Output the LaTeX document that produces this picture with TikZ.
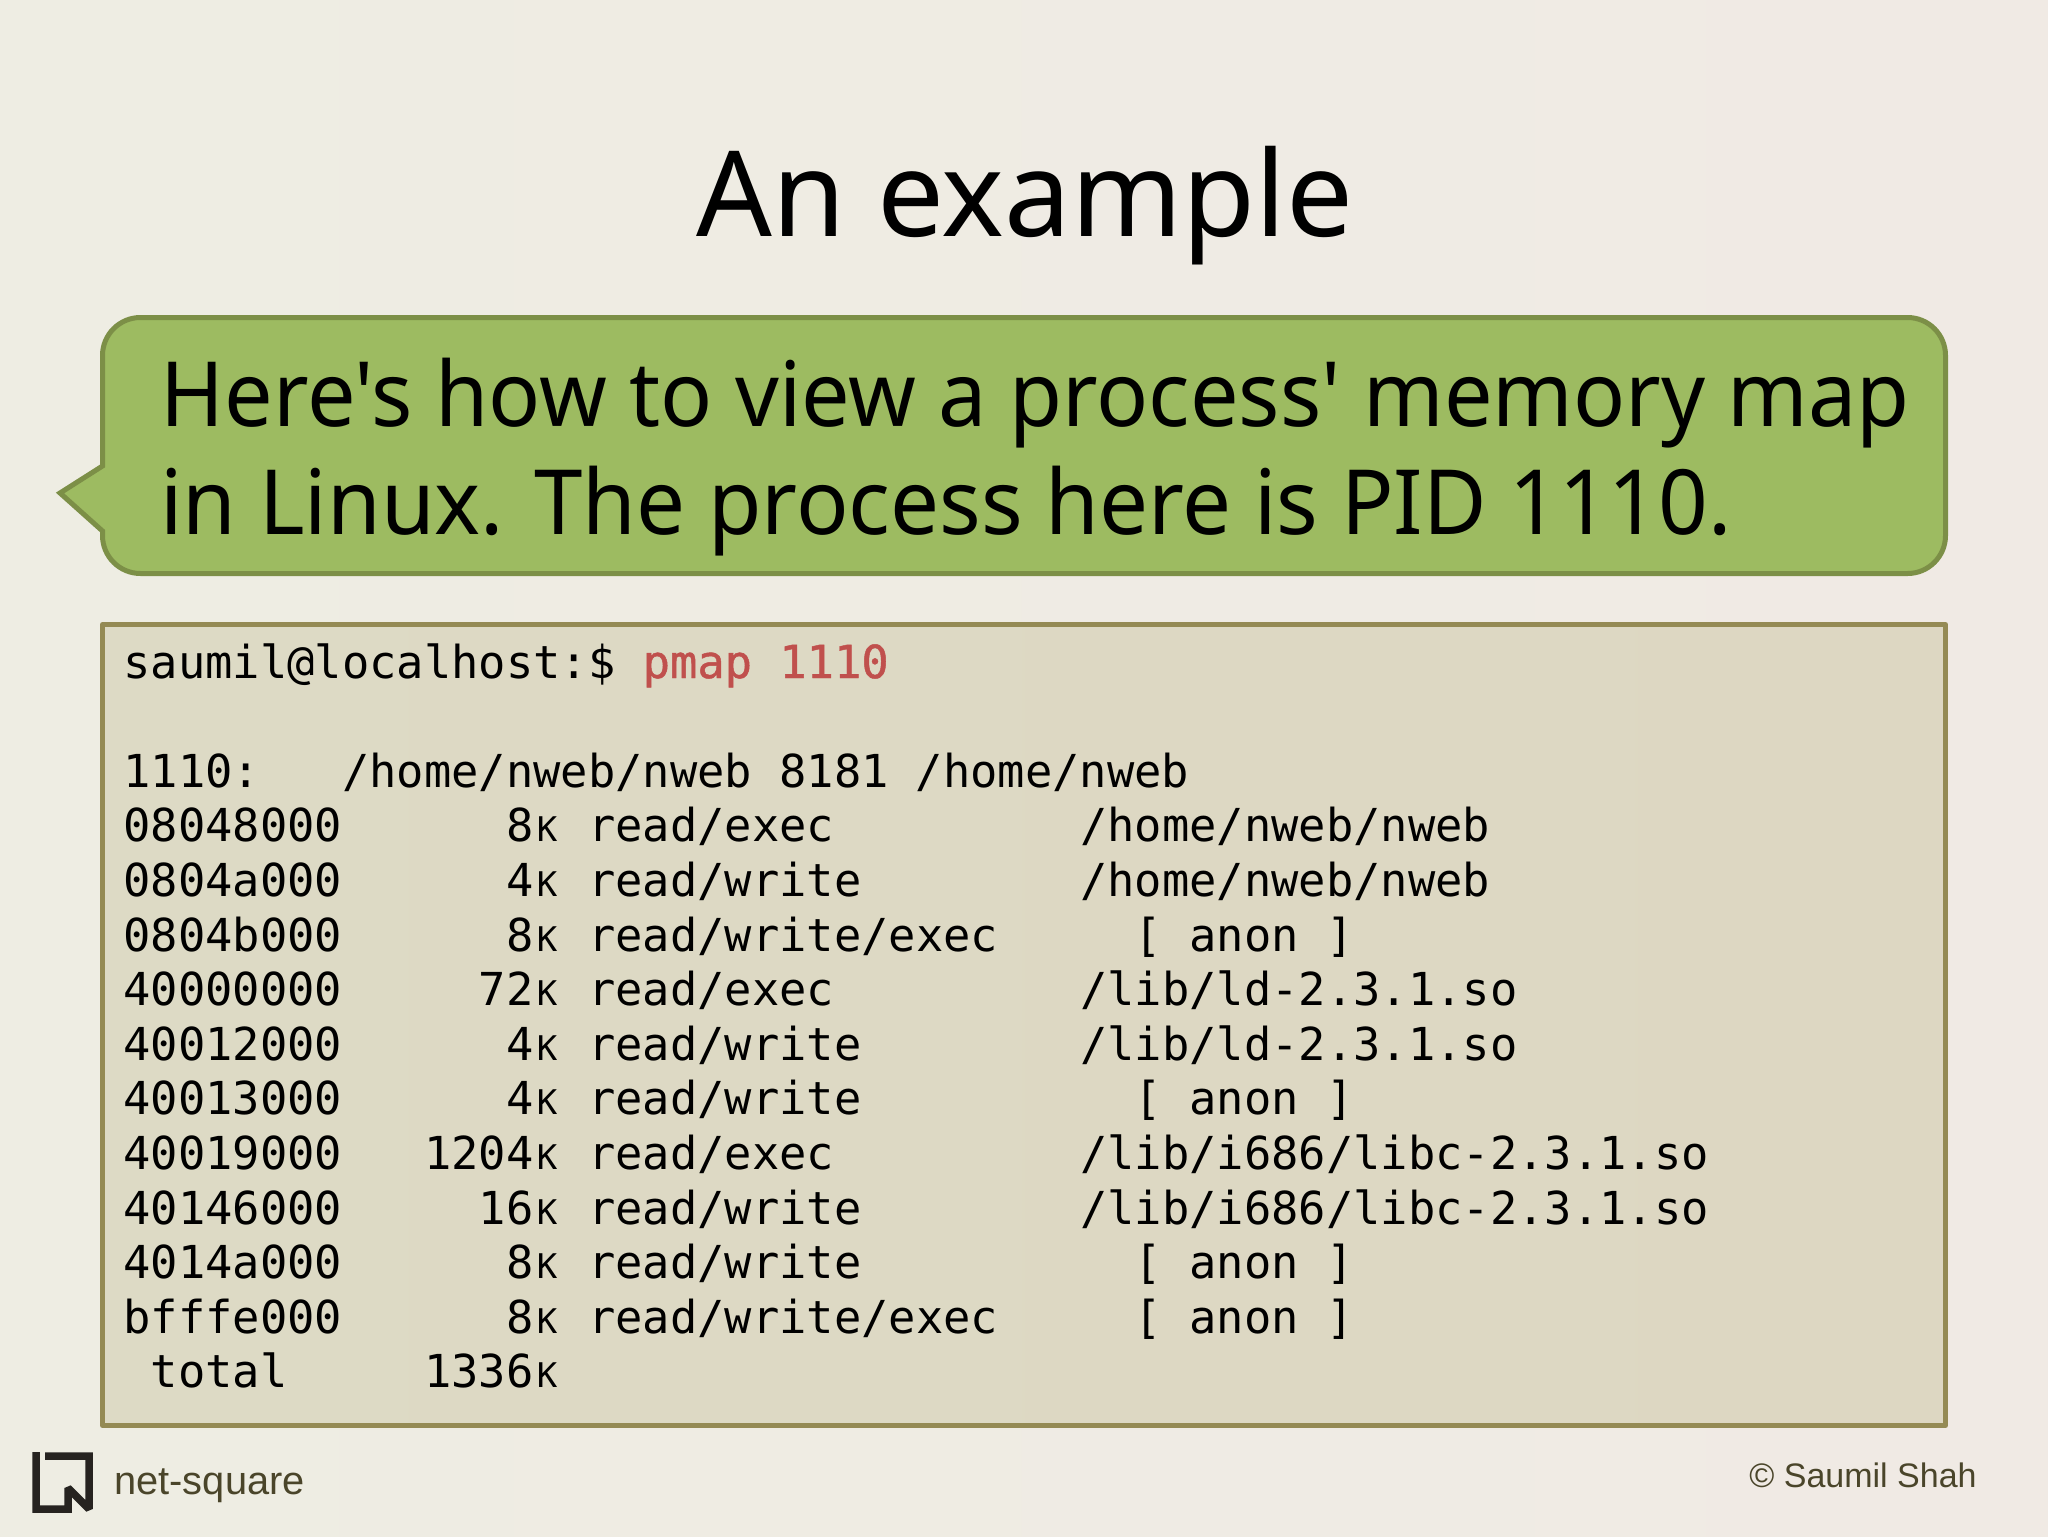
\documentclass[tikz,border=0pt]{standalone}
\usepackage{fontspec}
\newfontfamily\slidefont{Noto Sans}
\newfontfamily\termfont{DejaVu Sans Mono}
\newfontfamily\termboldfont[FakeBold=1]{DejaVu Sans Mono}
\newfontfamily\footfont{Liberation Sans}
\definecolor{bgl}{HTML}{EEEDE3}
\definecolor{bgm}{HTML}{EEECE2}
\definecolor{bgr}{HTML}{F0EAE4}
\definecolor{bubblefill}{HTML}{9DBB61}
\definecolor{bubbleline}{HTML}{7C8F47}
\definecolor{terml}{HTML}{DDDAC5}
\definecolor{termr}{HTML}{DDD7C2}
\definecolor{termline}{HTML}{948A54}
\definecolor{cmdred}{HTML}{C0504D}
\definecolor{footc}{HTML}{4A452A}
\definecolor{logoc}{HTML}{262320}
\newcommand{\smK}{\makebox[13.67pt][c]{\fontsize{17}{20}\selectfont K}}
\tikzset{
 x=.5pt,y=-.5pt,
 titletext/.style={inner sep=0,anchor=base,font=\slidefont\fontsize{59.4}{59}\selectfont,text=black},
 bubbletext/.style={inner sep=0,anchor=base west,font=\slidefont\fontsize{45}{46}\selectfont\addfontfeatures{FakeStretch=#1},text=black},
 termtext/.style={inner sep=0,anchor=base west,font=\termfont\fontsize{22.7}{27.3}\selectfont,text=black},
 foottext/.style={inner sep=0,font=\footfont\fontsize{19.9}{20}\selectfont,text=footc},
 copytext/.style={inner sep=0,font=\footfont\fontsize{17}{20}\selectfont,text=footc},
}
\begin{document}
\begin{tikzpicture}
\useasboundingbox (0,0) rectangle (2048,1536);
\fill[left color=bgl,middle color=bgm,right color=bgr] (0,0) rectangle (2048,1536);
\node[titletext] (title) at (1025,236) {An example};
\draw[fill=bubblefill,draw=bubbleline,line width=2.5pt,line join=miter]
 (102.5,355.5) arc[start angle=180,end angle=90,radius=19pt]
 -- (1907.5,317.5) arc[start angle=90,end angle=0,radius=19pt]
 -- (1945.5,535.5) arc[start angle=0,end angle=-90,radius=19pt]
 -- (140.5,573.5) arc[start angle=-90,end angle=-180,radius=19pt]
 -- (102.5,531) -- (60,493) -- (102.5,466) -- cycle;
\node[bubbletext=0.959] (line1) at (160,426) {Here's how to view a process' memory map};
\node[bubbletext=0.967] (line2) at (160,534) {in Linux. The process here is PID 1110.};
\draw[left color=terml,right color=termr,draw=termline,line width=2.5pt,line join=round] (102.5,624.5) rectangle (1945.5,1425.5);
\node[termtext] (t0) at (123,678) {saumil@localhost:\$ {\termboldfont\textcolor{cmdred}{pmap 1110}}};
\foreach \i/\t in {
 2/{1110:~~~/home/nweb/nweb 8181 /home/nweb},
 3/{08048000~~~~~~8\smK{} read/exec~~~~~~~~~/home/nweb/nweb},
 4/{0804a000~~~~~~4\smK{} read/write~~~~~~~~/home/nweb/nweb},
 5/{0804b000~~~~~~8\smK{} read/write/exec~~~~~[ anon ]},
 6/{40000000~~~~~72\smK{} read/exec~~~~~~~~~/lib/ld-2.3.1.so},
 7/{40012000~~~~~~4\smK{} read/write~~~~~~~~/lib/ld-2.3.1.so},
 8/{40013000~~~~~~4\smK{} read/write~~~~~~~~~~[ anon ]},
 9/{40019000~~~1204\smK{} read/exec~~~~~~~~~/lib/i686/libc-2.3.1.so},
 10/{40146000~~~~~16\smK{} read/write~~~~~~~~/lib/i686/libc-2.3.1.so},
 11/{4014a000~~~~~~8\smK{} read/write~~~~~~~~~~[ anon ]},
 12/{bfffe000~~~~~~8\smK{} read/write/exec~~~~~[ anon ]},
 13/{~total~~~~~1336\smK}}{
 \node[termtext] (t\i) at (123,{678+\i*54.6}) {\t};
}
\draw[logoc,line width=3.75pt,line join=miter,miter limit=1.5]
 (36,1452) -- (36,1509) -- (68,1509) -- (68,1488) -- (89,1509) -- (89,1456) -- (45,1456);
\node[foottext,anchor=base west] (brand) at (114,1494) {net-square};
\node[copytext,anchor=base east] (copy) at (1977,1487) {© Saumil Shah};
\end{tikzpicture}
\end{document}
